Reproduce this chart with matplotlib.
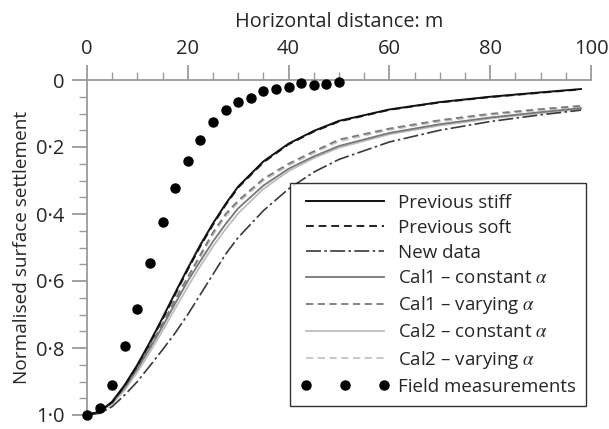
import matplotlib
matplotlib.use("Agg")
import matplotlib.pyplot as plt
from matplotlib.ticker import MultipleLocator, FuncFormatter

plt.rcParams['font.family'] = ['Open Sans', 'DejaVu Sans']
plt.rcParams['mathtext.fontset'] = 'stix'

# ---- data ----
x_curve = [0, 2.5, 5, 7.5, 10, 12.5, 15, 17.5, 20, 22.5, 25, 27.5, 30, 35, 40, 45, 50, 60, 70, 80, 90, 98]
prev_stiff = [1.0, 0.99, 0.96, 0.91, 0.85, 0.782, 0.71, 0.635, 0.562, 0.492, 0.428, 0.37, 0.318, 0.243, 0.19, 0.152, 0.122, 0.088, 0.066, 0.05, 0.037, 0.027]
prev_soft = [1.0, 0.99, 0.962, 0.912, 0.853, 0.786, 0.714, 0.64, 0.566, 0.496, 0.432, 0.373, 0.321, 0.246, 0.192, 0.154, 0.124, 0.089, 0.067, 0.051, 0.038, 0.028]
new_data = [1.0, 0.995, 0.975, 0.94, 0.9, 0.853, 0.805, 0.755, 0.70, 0.64, 0.58, 0.52, 0.47, 0.39, 0.325, 0.275, 0.237, 0.185, 0.15, 0.124, 0.104, 0.09]
cal1_const = [1.0, 0.99, 0.963, 0.918, 0.862, 0.80, 0.735, 0.667, 0.60, 0.54, 0.482, 0.43, 0.383, 0.315, 0.265, 0.228, 0.197, 0.158, 0.132, 0.112, 0.096, 0.084]
cal1_vary = [1.0, 0.99, 0.962, 0.915, 0.858, 0.795, 0.727, 0.655, 0.588, 0.522, 0.455, 0.40, 0.36, 0.295, 0.25, 0.213, 0.178, 0.145, 0.12, 0.101, 0.087, 0.077]
cal2_const = [1.0, 0.992, 0.968, 0.925, 0.872, 0.812, 0.748, 0.682, 0.617, 0.555, 0.497, 0.445, 0.398, 0.325, 0.272, 0.233, 0.202, 0.162, 0.136, 0.115, 0.099, 0.087]
cal2_vary = [1.0, 0.99, 0.964, 0.918, 0.862, 0.80, 0.732, 0.66, 0.593, 0.528, 0.462, 0.407, 0.366, 0.30, 0.255, 0.218, 0.183, 0.149, 0.124, 0.104, 0.09, 0.08]

x_field = [0, 2.5, 5, 7.5, 10, 12.5, 15, 17.5, 20, 22.5, 25, 27.5, 30, 32.5, 35, 37.5, 40, 42.5, 45, 47.5, 50]
field = [1.0, 0.978, 0.909, 0.794, 0.684, 0.546, 0.423, 0.322, 0.242, 0.178, 0.126, 0.089, 0.065, 0.054, 0.033, 0.028, 0.021, 0.01, 0.015, 0.013, 0.005]

labels = ["Previous stiff", "Previous soft", "New data",
          r"Cal1 – constant $\alpha$", r"Cal1 – varying $\alpha$",
          r"Cal2 – constant $\alpha$", r"Cal2 – varying $\alpha$",
          "Field measurements"]

FS = 13.5
TXT = '#262626'

fig = plt.figure(figsize=(6.09, 4.29), dpi=100)
ax = fig.add_axes([87/609, 1 - 415/429, 504/609, 335/429])

ax.plot(x_curve, cal2_const, color='#bdbdbd', lw=1.3, ls='-', label=labels[5])
ax.plot(x_curve, cal2_vary, color='#c4c4c4', lw=1.3, ls=(0, (4, 2.5)), label=labels[6])
ax.plot(x_curve, cal1_const, color='#777777', lw=1.3, ls='-', label=labels[3])
ax.plot(x_curve, cal1_vary, color='#7a7a7a', lw=1.3, ls=(0, (4, 2.5)), label=labels[4])
ax.plot(x_curve, new_data, color='#3a3a3a', lw=1.2, ls=(0, (9, 2, 1.5, 2)), label=labels[2])
ax.plot(x_curve, prev_soft, color='#222222', lw=1.4, ls=(0, (4, 2.5)), label=labels[1])
ax.plot(x_curve, prev_stiff, color='#111111', lw=1.4, ls='-', label=labels[0])
ax.plot(x_field, field, ls='none', marker='o', ms=6.5, color='black', clip_on=False,
        label=labels[7], zorder=5)

ax.set_xlim(0, 100)
ax.set_ylim(1.0, 0.0)

ax.xaxis.set_ticks_position('top')
ax.xaxis.set_label_position('top')
ax.set_xticks([0, 20, 40, 60, 80, 100])
ax.xaxis.set_minor_locator(MultipleLocator(5))
ax.set_yticks([0, 0.2, 0.4, 0.6, 0.8, 1.0])
ax.yaxis.set_minor_locator(MultipleLocator(0.05))

def yfmt(v, pos):
    if abs(v) < 1e-9:
        return "0"
    return ("%.1f" % v).replace('.', '·')
ax.yaxis.set_major_formatter(FuncFormatter(yfmt))

for s in ['right', 'bottom']:
    ax.spines[s].set_visible(False)
for s in ['top', 'left']:
    ax.spines[s].set_color('#9a9a9a')
    ax.spines[s].set_linewidth(1.3)

ax.tick_params(axis='both', which='major', direction='out', length=11, width=1.3,
               color='#9a9a9a', labelsize=14.5, labelcolor=TXT)
ax.tick_params(axis='x', which='major', pad=4)
ax.tick_params(axis='y', which='major', pad=5)
ax.tick_params(axis='both', which='minor', direction='out', length=6, width=1.0,
               color='#9a9a9a')

ax.set_xlabel("Horizontal distance: m", fontsize=14.3, color=TXT, labelpad=9)
ax.set_ylabel("Normalised surface settlement", fontsize=13.7, color=TXT, labelpad=4)

handles, labs = ax.get_legend_handles_labels()
order = [labs.index(l) for l in labels]
leg = ax.legend([handles[i] for i in order], [labs[i] for i in order],
                loc='lower right', bbox_to_anchor=(0.99, 0.027),
                prop={'size': FS}, frameon=True, fancybox=False, edgecolor='black',
                handlelength=4.75, handletextpad=0.45, labelspacing=0.38,
                borderpad=0.55, numpoints=3, borderaxespad=0)
leg.get_frame().set_linewidth(1.0)
for t in leg.get_texts():
    t.set_color(TXT)

fig.savefig("out.png", dpi=100)
